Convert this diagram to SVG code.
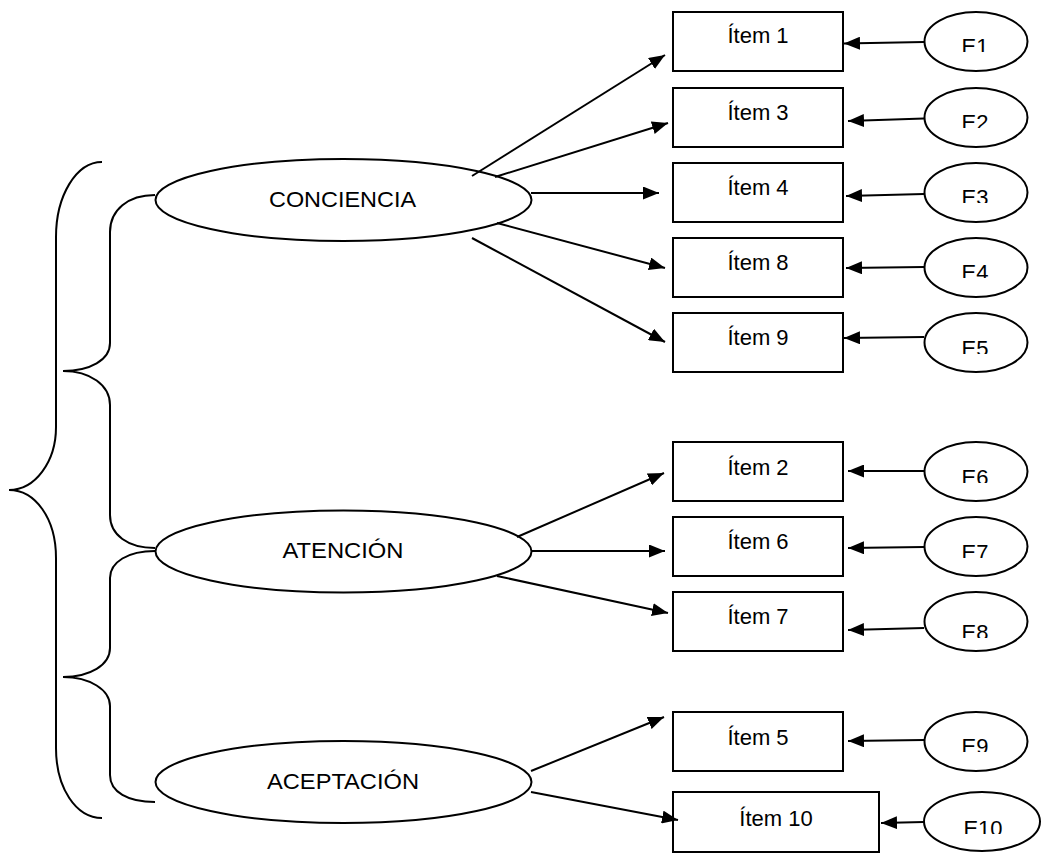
<svg xmlns="http://www.w3.org/2000/svg" width="1041" height="853" viewBox="0 0 1041 853">
<style>
  .box { fill: #fff; stroke: #000; stroke-width: 2; }
  .ell { fill: #fff; stroke: #000; stroke-width: 2; }
  .lbl { font-family: "Liberation Sans", Arial, sans-serif; font-size: 22px; fill: #000; text-anchor: middle; }
  .elbl { font-family: "Liberation Sans", Arial, sans-serif; font-size: 22px; fill: #000; text-anchor: middle; clip-path: url(#cut); }
  .con { stroke: #000; stroke-width: 2; fill: none; marker-end: url(#ah); }
  .brace { stroke: #000; stroke-width: 2; fill: none; }
</style>
<defs>
  <marker id="ah" markerUnits="userSpaceOnUse" markerWidth="16" markerHeight="13" refX="16" refY="6.5" orient="auto">
    <path d="M0,0 L16,6.5 L0,13 z" fill="#000"/>
  </marker>
  <clipPath id="cut" clipPathUnits="objectBoundingBox">
    <rect x="-0.1" y="0" width="1.2" height="0.715"/>
  </clipPath>
</defs>
<rect width="1041" height="853" fill="#fff"/>

<g id="braces">
  <path class="brace" d="M102,162 C76,162 56,196 56,237 V427 C56,462 35,490 9,490 C35,490 56,518 56,558 V748 C56,788 76,818 102,818"/>
  <path class="brace" d="M155,195 C128,195 110,210 110,232 V343 C110,360 90,371 63,371 C90,371 110,385 110,405 V515 C110,535 128,548 155,548"/>
  <path class="brace" d="M155,551 C128,551 110,562 110,578 V648 C110,665 90,677 63,677 C90,677 110,690 110,706 V775 C110,792 128,802 155,802"/>
</g>

<g id="conciencia">
  <ellipse class="ell" cx="343.5" cy="200" rx="188" ry="41"/>
  <text class="lbl" x="342.5" y="207" textLength="147" lengthAdjust="spacingAndGlyphs">CONCIENCIA</text>
</g>
<g id="atencion">
  <ellipse class="ell" cx="343.5" cy="551.5" rx="188" ry="41"/>
  <text class="lbl" x="343" y="558" textLength="121" lengthAdjust="spacingAndGlyphs">ATENCIÓN</text>
</g>
<g id="aceptacion">
  <ellipse class="ell" cx="343.5" cy="782" rx="188" ry="41"/>
  <text class="lbl" x="343" y="788.5" textLength="152" lengthAdjust="spacingAndGlyphs">ACEPTACIÓN</text>
</g>

<g id="item1"><rect class="box" x="673" y="12" width="170" height="59"/><text class="lbl" x="758" y="43">Ítem 1</text></g>
<g id="item3"><rect class="box" x="673" y="88" width="170" height="59"/><text class="lbl" x="758" y="120">Ítem 3</text></g>
<g id="item4"><rect class="box" x="673" y="163" width="170" height="59"/><text class="lbl" x="758" y="195">Ítem 4</text></g>
<g id="item8"><rect class="box" x="673" y="238" width="170" height="59"/><text class="lbl" x="758" y="270">Ítem 8</text></g>
<g id="item9"><rect class="box" x="673" y="313" width="170" height="59"/><text class="lbl" x="758" y="345">Ítem 9</text></g>
<g id="item2"><rect class="box" x="673" y="442" width="170" height="59"/><text class="lbl" x="758" y="475">Ítem 2</text></g>
<g id="item6"><rect class="box" x="673" y="517" width="170" height="59"/><text class="lbl" x="758" y="549">Ítem 6</text></g>
<g id="item7"><rect class="box" x="673" y="592" width="170" height="59"/><text class="lbl" x="758" y="624">Ítem 7</text></g>
<g id="item5"><rect class="box" x="673" y="712" width="170" height="59"/><text class="lbl" x="758" y="745">Ítem 5</text></g>
<g id="item10"><rect class="box" x="673" y="792" width="206" height="60"/><text class="lbl" x="776" y="826">Ítem 10</text></g>

<g id="e1"><ellipse class="ell" cx="976" cy="41.5" rx="51.5" ry="29.5"/><text class="elbl" x="975" y="54">E1</text></g>
<g id="e2"><ellipse class="ell" cx="976" cy="117.5" rx="51.5" ry="29.5"/><text class="elbl" x="975" y="130">E2</text></g>
<g id="e3"><ellipse class="ell" cx="976" cy="192.5" rx="51.5" ry="29.5"/><text class="elbl" x="975" y="205">E3</text></g>
<g id="e4"><ellipse class="ell" cx="976" cy="267.5" rx="51.5" ry="29.5"/><text class="elbl" x="975" y="280">E4</text></g>
<g id="e5"><ellipse class="ell" cx="976" cy="342.5" rx="51.5" ry="29.5"/><text class="elbl" x="975" y="356">E5</text></g>
<g id="e6"><ellipse class="ell" cx="976" cy="471.5" rx="51.5" ry="29.5"/><text class="elbl" x="975" y="485">E6</text></g>
<g id="e7"><ellipse class="ell" cx="976" cy="546.5" rx="51.5" ry="29.5"/><text class="elbl" x="975" y="560">E7</text></g>
<g id="e8"><ellipse class="ell" cx="976" cy="621.5" rx="51.5" ry="29.5"/><text class="elbl" x="975" y="640">E8</text></g>
<g id="e9"><ellipse class="ell" cx="976" cy="741.5" rx="51.5" ry="29.5"/><text class="elbl" x="975" y="754">E9</text></g>
<g id="e10"><ellipse class="ell" cx="982" cy="821.5" rx="58" ry="29.5"/><text class="elbl" x="983" y="836">E10</text></g>

<g id="connectors">
  <line class="con" x1="472" y1="176" x2="665" y2="55"/>
  <line class="con" x1="495" y1="177" x2="668" y2="123"/>
  <line class="con" x1="531" y1="193" x2="659" y2="193"/>
  <line class="con" x1="497" y1="223" x2="665" y2="268"/>
  <line class="con" x1="472" y1="238" x2="665" y2="342"/>
  <line class="con" x1="517" y1="537" x2="664" y2="473"/>
  <line class="con" x1="531" y1="551" x2="665" y2="551"/>
  <line class="con" x1="497" y1="576" x2="668" y2="613"/>
  <line class="con" x1="531" y1="771" x2="664" y2="717"/>
  <line class="con" x1="531" y1="792" x2="678" y2="820"/>
  <line class="con" x1="924" y1="42" x2="844" y2="43.5"/>
  <line class="con" x1="924" y1="118.5" x2="848" y2="121"/>
  <line class="con" x1="924" y1="194" x2="846" y2="196"/>
  <line class="con" x1="924" y1="267" x2="846" y2="268"/>
  <line class="con" x1="924" y1="337" x2="844" y2="338"/>
  <line class="con" x1="924" y1="471" x2="848" y2="471"/>
  <line class="con" x1="924" y1="547" x2="848" y2="548"/>
  <line class="con" x1="924" y1="628" x2="848" y2="630"/>
  <line class="con" x1="924" y1="740" x2="848" y2="741"/>
  <line class="con" x1="924" y1="822" x2="881" y2="823"/>
</g>
</svg>
